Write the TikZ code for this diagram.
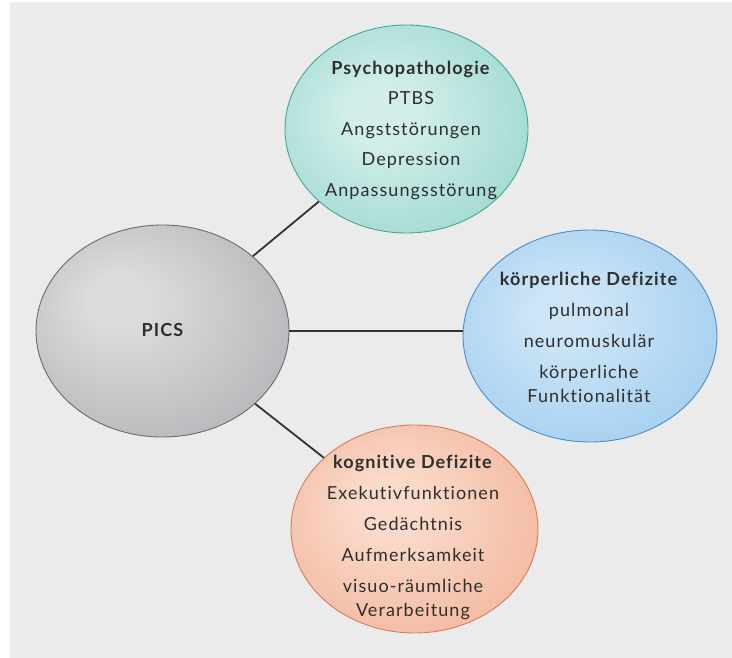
\documentclass[tikz,border=0pt]{standalone}
\usepackage{fontspec}
\setmainfont[LetterSpace=6, Ligatures=NoCommon]{Lato}
\usetikzlibrary{shapes.geometric}

\definecolor{bggray}{HTML}{EBEBEB}
\definecolor{txtgray}{HTML}{2E2E2E}
\definecolor{linkgray}{HTML}{333333}
% bubble colours: inner highlight, outer rim, border
\definecolor{picsin}{HTML}{DCDCDD}
\definecolor{picsout}{HTML}{9A9CA0}
\definecolor{picsrim}{HTML}{6A6B6E}
\definecolor{psyin}{HTML}{D4EFEB}
\definecolor{psyout}{HTML}{78C9BE}
\definecolor{psyrim}{HTML}{46A698}
\definecolor{koein}{HTML}{CDE5F7}
\definecolor{koeout}{HTML}{86BFEA}
\definecolor{koerim}{HTML}{4A8ECC}
\definecolor{kogin}{HTML}{FADBCB}
\definecolor{kogout}{HTML}{EE9F80}
\definecolor{kogrim}{HTML}{D27D5C}

\pgfdeclareradialshading{picsshade}{\pgfpoint{-10bp}{8bp}}{color(0bp)=(picsin); color(6bp)=(picsin); color(52bp)=(picsout)}
\pgfdeclareradialshading{psyshade}{\pgfpoint{-6bp}{4bp}}{color(0bp)=(psyin); color(6bp)=(psyin); color(50bp)=(psyout)}
\pgfdeclareradialshading{koeshade}{\pgfpoint{-6bp}{6bp}}{color(0bp)=(koein); color(6bp)=(koein); color(50bp)=(koeout)}
\pgfdeclareradialshading{kogshade}{\pgfpoint{-6bp}{6bp}}{color(0bp)=(kogin); color(6bp)=(kogin); color(50bp)=(kogout)}

\begin{document}
\begin{tikzpicture}[x=1pt,y=-1pt,
    bubble/.style={draw, ellipse, line width=0.9pt, inner sep=0pt},
    itemlist/.style={align=center, inner sep=0pt, text=txtgray,
      font=\fontsize{18}{30.5}\selectfont},
    link/.style={draw, line width=1.8pt, color=linkgray}]
    \useasboundingbox (0,0) rectangle (732,658);
    \fill[white] (0,0) rectangle (732,658);
    \fill[bggray] (10,2) rectangle (732,658);

    \node[bubble, draw=picsrim, shading=picsshade, minimum width=253pt, minimum height=212pt] (pics) at (162.5,331) {};
    \node[bubble, draw=psyrim, shading=psyshade, minimum width=243pt, minimum height=208pt] (psy) at (406.5,129) {};
    \node[bubble, draw=koerim, shading=koeshade, minimum width=254pt, minimum height=212pt] (koe) at (590,336) {};
    \node[bubble, draw=kogrim, shading=kogshade, minimum width=247pt, minimum height=208pt] (kog) at (414.5,529) {};

    \node[itemlist] (picsText) at (163,330) {\textbf{PICS}};
    \node[itemlist] (psyText) at (411,130) {\textbf{Psychopathologie}\\PTBS\\Angststörungen\\Depression\\Anpassungsstörung};
    \node[itemlist, font=\fontsize{18}{31}\selectfont] (koeText) at (589,337) {\textbf{körperliche Defizite}\\pulmonal\\neuromuskulär\\körperliche\\[-7pt]Funktionalität};
    \node[itemlist, font=\fontsize{18}{31}\selectfont] (kogText) at (413,537) {\textbf{kognitive Defizite}\\Exekutivfunktionen\\Gedächtnis\\Aufmerksamkeit\\visuo-räumliche\\[-7pt]Verarbeitung};

    \path[link] (pics) -- (psy);
    \path[link] (pics) -- (pics -| koe.west);
    \path[link] (pics) -- (kog);
\end{tikzpicture}
\end{document}
